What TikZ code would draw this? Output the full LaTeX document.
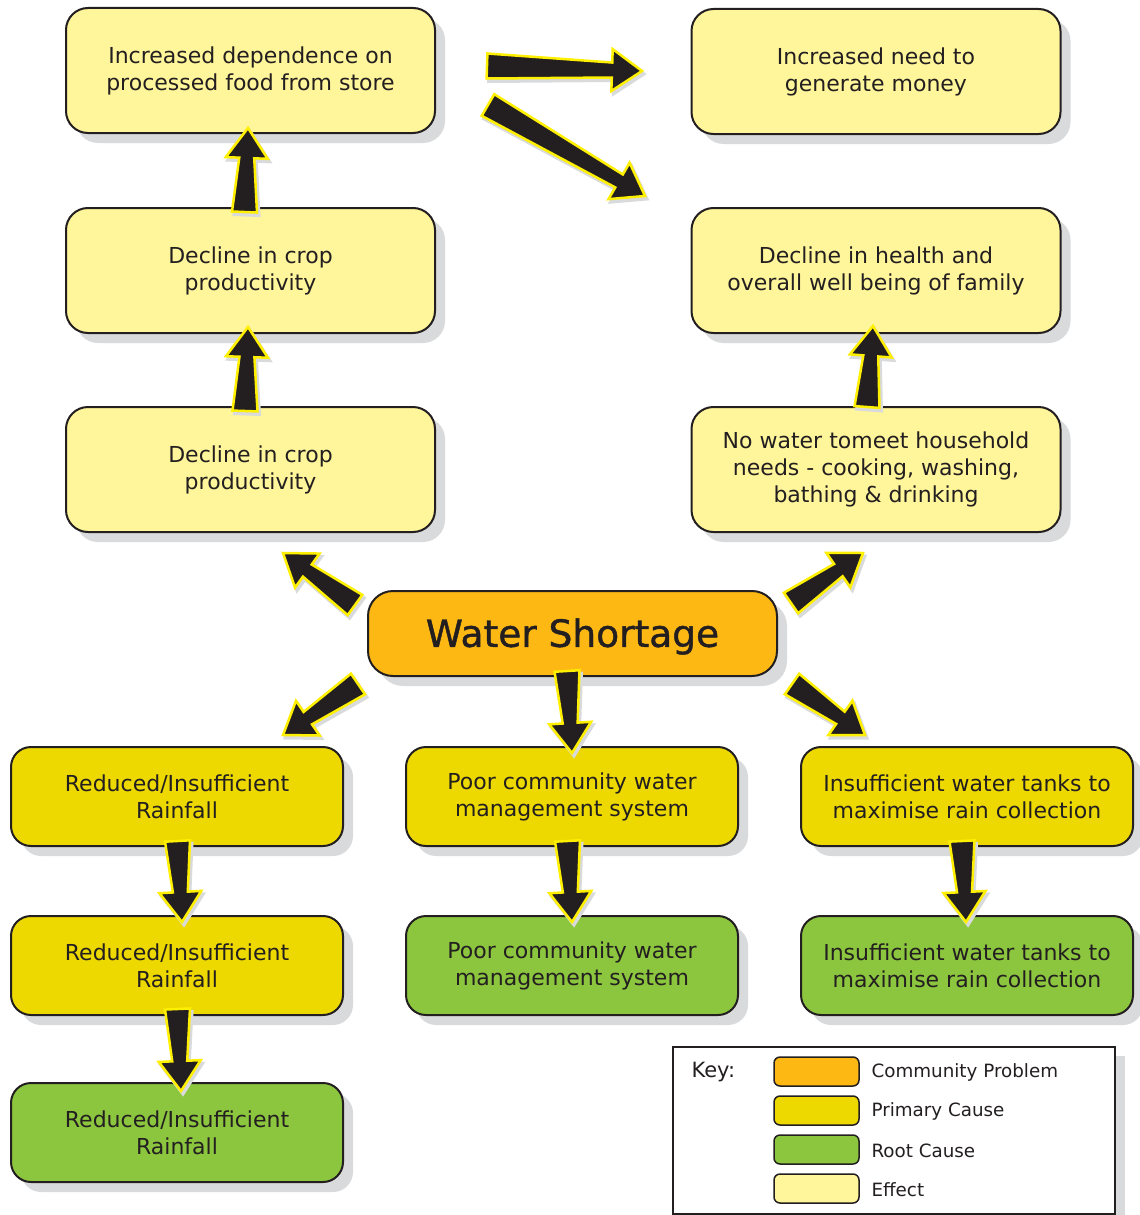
\documentclass[tikz,border=0pt]{standalone}
\usepackage{fontspec}
\setmainfont{DejaVu Sans}
\newfontfamily\headfont[FakeBold=1.2]{DejaVu Sans}
\usetikzlibrary{calc,shadows}

\definecolor{ink}{HTML}{231F20}
\definecolor{effectfill}{HTML}{FFF59B}
\definecolor{primaryfill}{HTML}{EDD900}
\definecolor{rootfill}{HTML}{8CC63F}
\definecolor{problemfill}{HTML}{FDB813}
\definecolor{shadowgrey}{HTML}{D9DADB}
\definecolor{arrowedge}{HTML}{FFEF00}

% Thick black block arrow with a yellow rim and a grey shade,
% from tail coordinate #1 to tip coordinate #2.
\newcommand{\blockarrow}[2]{%
  \coordinate (ba-n)  at ($(#2)!30pt!(#1)$);
  \coordinate (ba-tl) at ($(#1)!12.5pt!90:(#2)$);
  \coordinate (ba-tr) at ($(#1)!12.5pt!-90:(#2)$);
  \coordinate (ba-nl) at ($(ba-n)!7.5pt!90:(#2)$);
  \coordinate (ba-nr) at ($(ba-n)!7.5pt!-90:(#2)$);
  \coordinate (ba-hl) at ($(ba-n)!21pt!90:(#2)$);
  \coordinate (ba-hr) at ($(ba-n)!21pt!-90:(#2)$);
  \begin{scope}[transform canvas={shift={(2pt,-3pt)}}]
    \filldraw[arrowshade] (ba-tl) -- (ba-nl) -- (ba-hl) -- (#2) -- (ba-hr) -- (ba-nr) -- (ba-tr) -- cycle;
  \end{scope}
  \filldraw[arrowbody] (ba-tl) -- (ba-nl) -- (ba-hl) -- (#2) -- (ba-hr) -- (ba-nr) -- (ba-tr) -- cycle;
}

\begin{document}
\begin{tikzpicture}[
  x=1pt, y=-1pt,
  every node/.style={text=ink},
  boxbase/.style={draw=ink, line width=2pt, align=center,
    font=\fontsize{22}{27}\selectfont,
    drop shadow={shadow xshift=10pt, shadow yshift=-10pt, fill=shadowgrey, opacity=1}},
  effect/.style={boxbase, fill=effectfill, minimum width=369pt, minimum height=125pt, rounded corners=22pt},
  primary/.style={boxbase, fill=primaryfill, minimum width=332pt, minimum height=99pt, rounded corners=20pt},
  root/.style={boxbase, fill=rootfill, minimum width=332pt, minimum height=99pt, rounded corners=20pt},
  problem/.style={boxbase, fill=problemfill, minimum width=409pt, minimum height=85pt, rounded corners=25pt,
    font=\headfont\fontsize{37.5}{40}\selectfont},
  arrowbody/.style={fill=ink, draw=arrowedge, line width=2.5pt, line join=miter},
  arrowshade/.style={fill=shadowgrey, draw=shadowgrey, line width=3pt},
  swatch/.style={draw=ink, line width=1.5pt, rounded corners=6pt, minimum width=85pt, minimum height=29pt},
  keytext/.style={anchor=west, font=\fontsize{18.3}{22}\selectfont},
]
\useasboundingbox (0,0) rectangle (1140,1215);

% Effects
\node[effect] (incdep)  at (250.5,70.5)  {Increased dependence on\\processed food from store};
\node[effect] (money)   at (876,71.5)    {Increased need to\\generate money};
\node[effect] (crop2)   at (250.5,270.5) {Decline in crop\\productivity};
\node[effect] (health)  at (876,270.5)   {Decline in health and\\overall well being of family};
\node[effect] (crop1)   at (250.5,469.5) {Decline in crop\\productivity};
\node[effect] (nowater) at (876,469.5)   {No water tomeet household\\needs - cooking, washing,\\bathing \& drinking};

% Community problem
\node[problem] (ws) at (572.5,633.5) {\raisebox{-3pt}[\height][\depth]{Water Shortage}};

% Primary causes
\node[primary] (rain1) at (177,796.5) {Reduced/Insufficient\\Rainfall};
\node[primary] (mgmt1) at (572,796.5) {Poor community water\\management system};
\node[primary] (tank1) at (967,796.5) {Insufficient water tanks to\\maximise rain collection};
\node[primary] (rain2) at (177,965.5) {Reduced/Insufficient\\Rainfall};

% Root causes
\node[root] (mgmt2) at (572,965.5)  {Poor community water\\management system};
\node[root] (tank2) at (967,965.5)  {Insufficient water tanks to\\maximise rain collection};
\node[root] (rain3) at (177,1132.5) {Reduced/Insufficient\\Rainfall};

% Arrow ends
\coordinate (crop2-out)   at (244.5,212);
\coordinate (incdep-in)   at (248,128);
\coordinate (crop1-out)   at (245,411);
\coordinate (crop2-in)    at (248,327);
\coordinate (incdep-out1) at (487,66);
\coordinate (money-in)    at (642,71);
\coordinate (incdep-out2) at (488,105);
\coordinate (health-in)   at (645,196);
\coordinate (ws-nw)       at (355,605);
\coordinate (crop1-in)    at (283,553);
\coordinate (ws-ne)       at (791,603);
\coordinate (nowater-in)  at (863,553);
\coordinate (ws-sw)       at (358,684);
\coordinate (rain1-in)    at (283,735);
\coordinate (ws-s)        at (567,671);
\coordinate (mgmt1-in)    at (572,753);
\coordinate (ws-se)       at (792,684);
\coordinate (tank1-in)    at (865,735);
\coordinate (rain1-out)   at (177.5,841);
\coordinate (rain2-in)    at (182,922);
\coordinate (mgmt1-out)   at (567.5,841);
\coordinate (mgmt2-in)    at (572,922);
\coordinate (tank1-out)   at (962,841);
\coordinate (tank2-in)    at (966,922);
\coordinate (rain2-out)   at (177.5,1009);
\coordinate (rain3-in)    at (181,1091);
\coordinate (nowater-out) at (867,407);
\coordinate (health-in2)  at (873,326);

% Arrows
\blockarrow{crop2-out}{incdep-in}
\blockarrow{crop1-out}{crop2-in}
\blockarrow{incdep-out1}{money-in}
\blockarrow{incdep-out2}{health-in}
\blockarrow{ws-nw}{crop1-in}
\blockarrow{ws-ne}{nowater-in}
\blockarrow{ws-sw}{rain1-in}
\blockarrow{ws-s}{mgmt1-in}
\blockarrow{ws-se}{tank1-in}
\blockarrow{rain1-out}{rain2-in}
\blockarrow{mgmt1-out}{mgmt2-in}
\blockarrow{tank1-out}{tank2-in}
\blockarrow{rain2-out}{rain3-in}
\blockarrow{nowater-out}{health-in2}

% Key
\fill[shadowgrey] (1116,1056) rectangle (1125,1215);
\node[draw=ink, line width=1.5pt, fill=white, minimum width=442pt, minimum height=167pt] (key) at (894,1130.5) {};
\node[anchor=north west, font=\fontsize{21}{25}\selectfont] (keylabel) at (688,1059) {Key:};
\node[swatch, fill=problemfill] (k1) at (816.5,1071.5) {};
\node[swatch, fill=primaryfill] (k2) at (816.5,1110.5) {};
\node[swatch, fill=rootfill]    (k3) at (816.5,1149.5) {};
\node[swatch, fill=effectfill]  (k4) at (816.5,1188.5) {};
\node[keytext] (t1) at (868,1072.5) {Community Problem};
\node[keytext] (t2) at (868,1111.5) {Primary Cause};
\node[keytext] (t3) at (868,1150.5) {Root Cause};
\node[keytext] (t4) at (868,1189.5) {Effect};
\end{tikzpicture}
\end{document}
